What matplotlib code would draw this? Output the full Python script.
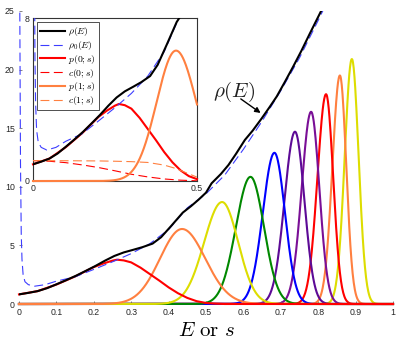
import numpy as np
import matplotlib
matplotlib.use("Agg")
import matplotlib.pyplot as plt

plt.rcParams["font.family"] = ["Liberation Sans", "DejaVu Sans"]
plt.rcParams["mathtext.fontset"] = "cm"

# density of states rho(E)
s_rho = [0, 0.025, 0.05, 0.075, 0.1, 0.125, 0.153, 0.18, 0.204, 0.23, 0.255, 0.28,
         0.306, 0.33, 0.357, 0.38, 0.408, 0.438, 0.46, 0.48, 0.5, 0.515, 0.54, 0.56,
         0.58, 0.604, 0.625, 0.649, 0.67, 0.689, 0.71, 0.733, 0.755, 0.778, 0.807, 0.83]
rho = [0.82, 0.95, 1.1, 1.35, 1.68, 2.02, 2.42, 2.85, 3.24, 3.7, 4.1, 4.4,
       4.63, 4.85, 5.15, 5.7, 6.7, 7.8, 8.35, 8.9, 9.5, 10.3, 11.1, 11.86,
       12.8, 14.0, 14.8, 15.84, 16.8, 17.7, 18.9, 20.25, 21.6, 23.1, 24.95, 26.5]

# smooth density rho_0(E)
s_rho0 = [0.002, 0.004, 0.006, 0.008, 0.011, 0.016, 0.025, 0.042, 0.07, 0.1, 0.15,
          0.2, 0.25, 0.3, 0.35, 0.4, 0.45, 0.5, 0.55, 0.6, 0.65, 0.7, 0.75, 0.8, 0.85]
rho0 = [26, 12, 6, 3.8, 2.5, 1.9, 1.65, 1.52, 1.65, 1.95, 2.32,
        2.95, 3.6, 4.3, 5.15, 6.35, 8.2, 9.4, 11.0, 13.2, 15.6, 18.2, 21.0, 24.2, 27.5]

# p(0;s)
s_p0 = [0, 0.05, 0.1, 0.15, 0.2, 0.225, 0.25, 0.262, 0.28, 0.3, 0.325, 0.35, 0.375,
        0.4, 0.425, 0.45, 0.475, 0.5, 0.525, 0.55, 1.0]
p0 = [0.82, 1.1, 1.66, 2.35, 3.15, 3.45, 3.7, 3.78, 3.72, 3.55, 3.1, 2.55, 2.0,
      1.42, 0.92, 0.52, 0.24, 0.09, 0.03, 0.0, 0.0]

# c(0;s) and c(1;s)
s_c0 = [0, 0.05, 0.1, 0.15, 0.2, 0.25, 0.3, 0.35, 0.4, 0.45, 0.5]
c0 = [1.0, 0.97, 0.9, 0.79, 0.66, 0.5, 0.33, 0.2, 0.1, 0.04, 0.01]
s_c1 = [0, 0.1, 0.2, 0.25, 0.3, 0.35, 0.4, 0.43, 0.46, 0.5]
c1 = [1.0, 0.995, 0.985, 0.97, 0.95, 0.91, 0.78, 0.64, 0.45, 0.19]

# p(n;s), n = 1..9: peak position, peak height, left/right widths
peak_s = [0.436, 0.543, 0.619, 0.683, 0.738, 0.781, 0.821, 0.858, 0.890]
peak_h = [6.4, 8.7, 10.85, 12.9, 14.7, 16.4, 17.9, 19.5, 20.9]
width_l = [0.059, 0.048, 0.039, 0.031, 0.028, 0.025, 0.023, 0.020, 0.019]
width_r = [0.062, 0.043, 0.036, 0.028, 0.025, 0.022, 0.019, 0.017, 0.018]

c_red, c_orange, c_yellow = "#FF0000", "#FF8040", "#DDDD00"
bump_colors = [c_orange, c_yellow, "#008800", "#0000FF", "#5C0A96", "#7A0F96",
               c_red, c_orange, c_yellow]
c_blue = "#3D3DFF"


def bump(s, c, h, wl, wr):
    w = np.where(s < c, wl, wr)
    return h * np.exp(-0.5 * ((s - c) / w) ** 2)


s = np.linspace(0, 1, 1001)

fig = plt.figure(figsize=(3.99, 3.45), dpi=100)
ax = fig.add_axes([19 / 399, 41 / 345, 374 / 399, 293 / 345])

# later n underneath, p(0;s) on top
for n in range(len(peak_s) - 1, -1, -1):
    ax.plot(s, bump(s, peak_s[n], peak_h[n], width_l[n], width_r[n]),
            color=bump_colors[n], lw=1.5, clip_on=False, zorder=2)
ax.plot(s_p0, p0, color=c_red, lw=1.5, clip_on=False, zorder=2.5)
ax.plot(s_rho0, rho0, color=c_blue, lw=0.8, dashes=(8, 4), zorder=3)
ax.plot(s_rho, rho, color="black", lw=1.5, zorder=4)

ax.set_xlim(0, 1)
ax.set_ylim(0, 25)
ax.set_xticks(np.arange(0, 1.01, 0.1))
ax.set_xticklabels(["0", "0.1", "0.2", "0.3", "0.4", "0.5", "0.6", "0.7", "0.8", "0.9", "1"])
ax.set_yticks([0, 5, 10, 15, 20, 25])
for sp in ax.spines.values():
    sp.set_visible(False)
ax.tick_params(direction="in", length=2.5, width=0.5, color="#555555",
               labelsize=6.3, pad=3, labelcolor="#262626")

ax.text(0.574, 18.1, r"$\rho(E)$", fontsize=15, ha="center", va="center", color="#222222")
ax.annotate("", xy=(0.646, 16.3), xytext=(0.593, 17.5),
            arrowprops=dict(arrowstyle="-|>", color="black", lw=1.0,
                            mutation_scale=8, shrinkA=0, shrinkB=0))

fig.text(206 / 399, 1 - 331 / 345, r"$E\ \mathrm{or}\ s$", fontsize=15,
         ha="center", va="center")

# inset
axi = fig.add_axes([33 / 399, (345 - 181) / 345, 164 / 399, 163 / 345])
si = s[s <= 0.5]
axi.plot(s_rho, rho, color="black", lw=1.5, zorder=5, label=r"$\rho(E)$")
axi.plot(s_rho0, rho0, color=c_blue, lw=0.8, dashes=(8, 4), zorder=4, label=r"$\rho_0(E)$")
axi.plot(s_p0[:18], p0[:18], color=c_red, lw=1.5, zorder=3, clip_on=False, label=r"$p(0;s)$")
axi.plot(s_c0, c0, color=c_red, lw=0.8, dashes=(8, 4), zorder=3, label=r"$c(0;s)$")
axi.plot(si, bump(si, peak_s[0], peak_h[0], width_l[0], width_r[0]), color=c_orange,
         lw=1.5, zorder=3, clip_on=False, label=r"$p(1;s)$")
axi.plot(s_c1, c1, color=c_orange, lw=0.8, dashes=(8, 4), zorder=3, label=r"$c(1;s)$")

axi.set_xlim(0, 0.5)
axi.set_ylim(0, 8)
axi.set_xticks([0, 0.5])
axi.set_xticklabels(["0", "0.5"])
axi.set_yticks([0, 8])
axi.set_yticklabels(["0", "8"])
for sp in axi.spines.values():
    sp.set_color("#333333")
    sp.set_linewidth(0.8)
axi.tick_params(direction="in", length=2, width=0.5, labelsize=6.3, pad=2.5,
                labelcolor="#262626")

leg = axi.legend(loc="upper left", fontsize=7, handlelength=2.5, labelspacing=0.08,
                 borderpad=0.3, handletextpad=0.4, borderaxespad=0.45,
                 fancybox=False, framealpha=1)
leg.get_frame().set_edgecolor("#333333")
leg.get_frame().set_linewidth(0.6)

plt.savefig("out.png", dpi=100)
